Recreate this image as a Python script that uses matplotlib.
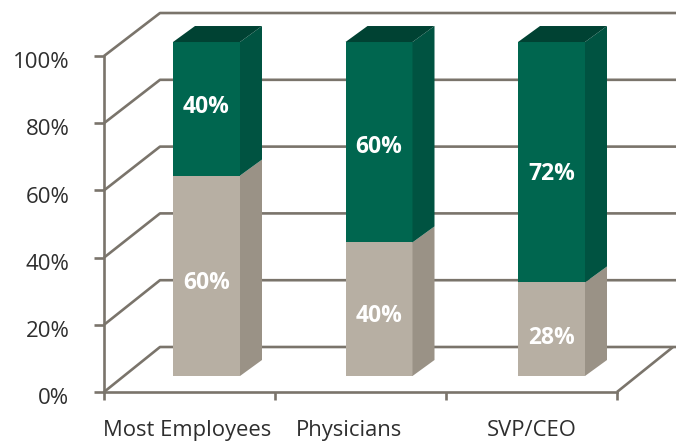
import matplotlib
matplotlib.use('Agg')
import matplotlib.pyplot as plt
from matplotlib.patches import Polygon
from matplotlib.transforms import ScaledTranslation

categories = ['Most Employees', 'Physicians', 'SVP/CEO']
tan_values = [60, 40, 28]
green_values = [40, 60, 72]
y_ticks = [0, 20, 40, 60, 80, 100]
y_labels = ['0%', '20%', '40%', '60%', '80%', '100%']

LINE = '#7a746b'
TAN, TAN_SIDE = '#b7afa3', '#9a9286'
GREEN, GREEN_SIDE, GREEN_TOP = '#00664f', '#005341', '#004233'
TEXT = '#2e2e2e'

W, H = 676, 441
plt.rcParams['font.family'] = ['Open Sans', 'DejaVu Sans']
fig = plt.figure(figsize=(W / 100, H / 100), dpi=100)
# plot box in pixels: x 104..617, y 56..392
ax = fig.add_axes([104 / W, 1 - 392 / H, 513 / W, 336 / H])
ax.set_xlim(0, 3)
ax.set_ylim(0, 100)
ax.patch.set_alpha(0)

# depth of the fake 3d box, data units
depth_x = 56 / 171
depth_y = 45 / 3.36
# bar placement inside that depth
bar_w = 67 / 171
bar_dx = 22 / 171
bar_dy = 16 / 3.36
bar_step = 172.5 / 171
front_x = 17 / 171
front_y = 16 / 3.36
# things further back come out a bit smaller
back_scale = 0.994

for s in ['top', 'right']:
    ax.spines[s].set_visible(False)
for s in ['left', 'bottom']:
    ax.spines[s].set_color(LINE)
    ax.spines[s].set_linewidth(1.9)

ax.set_yticks(y_ticks)
ax.set_yticklabels(y_labels, fontsize=16, color=TEXT)
ax.set_xticks([0, 1, 2, 3])
ax.set_xticklabels([])
ax.tick_params(axis='y', length=7, width=1.9, color=LINE, pad=18)
ax.tick_params(axis='x', length=6, width=1.9, color=LINE)
for lab in ax.get_yticklabels():
    lab.set_transform(lab.get_transform() + ScaledTranslation(0, -3 / 72, fig.dpi_scale_trans))

# back wall lines and floor
line_kw = dict(color=LINE, lw=1.9, clip_on=False, zorder=1, solid_capstyle='butt')
for v in y_ticks:
    yb = v * back_scale + depth_y
    ax.plot([0, depth_x, 3 + depth_x + 0.02], [v, yb, yb], **line_kw)
ax.plot([3, 3 + depth_x], [0, depth_y], **line_kw)


def face(pts, color):
    ax.add_patch(Polygon(pts, closed=True, facecolor=color, edgecolor='none',
                         clip_on=False, zorder=3))


# the value labels sit a little off the segment centres, nudge in percent
tan_nudge = [-2, -2, -2.7]
green_nudge = [0.5, -1.3, -3.4]

for i in range(len(categories)):
    x0 = i * bar_step + 0.5 - bar_w / 2 + front_x
    x1 = x0 + bar_w
    base = front_y
    y_mid = base + tan_values[i] * back_scale
    y_top = y_mid + green_values[i] * back_scale

    face([(x0, base), (x1, base), (x1, y_mid), (x0, y_mid)], TAN)
    face([(x1, base), (x1 + bar_dx, base + bar_dy), (x1 + bar_dx, y_mid + bar_dy), (x1, y_mid)], TAN_SIDE)
    face([(x0, y_mid), (x1, y_mid), (x1, y_top), (x0, y_top)], GREEN)
    face([(x1, y_mid), (x1 + bar_dx, y_mid + bar_dy), (x1 + bar_dx, y_top + bar_dy), (x1, y_top)], GREEN_SIDE)
    face([(x0, y_top), (x1, y_top), (x1 + bar_dx, y_top + bar_dy), (x0 + bar_dx, y_top + bar_dy)], GREEN_TOP)

    xc = (x0 + x1) / 2
    ax.text(xc, base + tan_values[i] * back_scale / 2 + tan_nudge[i], str(tan_values[i]) + '%', color='white',
            fontsize=16.5, fontweight='bold', ha='center', va='center', zorder=4)
    ax.text(xc, y_mid + green_values[i] * back_scale / 2 + green_nudge[i], str(green_values[i]) + '%', color='white',
            fontsize=16.5, fontweight='bold', ha='center', va='center', zorder=4)

# category labels are not quite centred in the original
label_x = [0.484, 1.43, 2.504]
for i in range(len(categories)):
    ax.text(label_x[i], -11.4, categories[i], fontsize=15.8, color=TEXT, ha='center', va='center', clip_on=False)

fig.savefig('out.png', dpi=100)
